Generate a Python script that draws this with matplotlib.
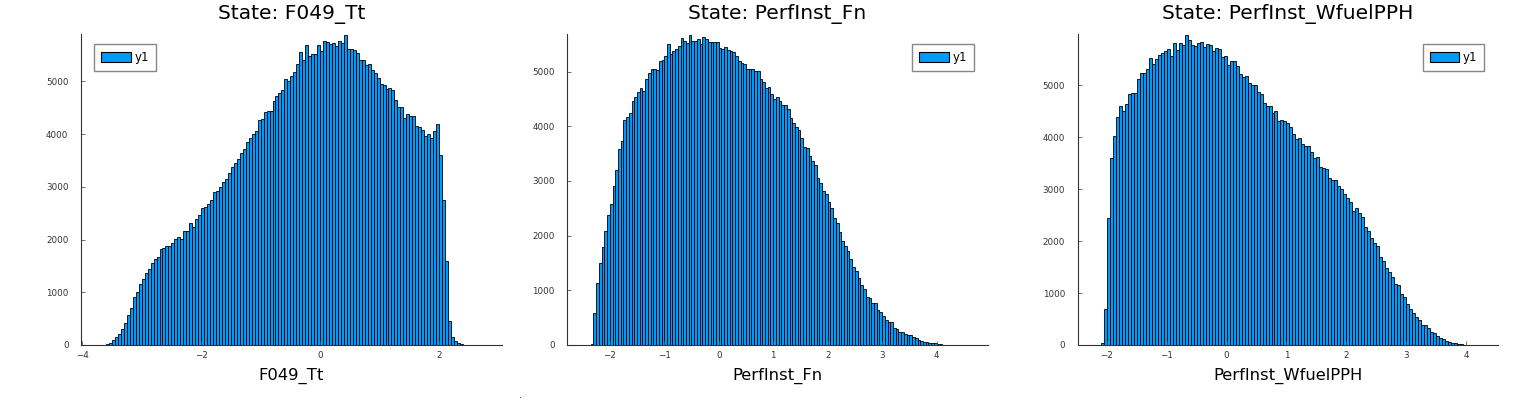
"""Three state histograms (bin width 0.05), Plots.jl-like styling."""
import numpy as np
import matplotlib

matplotlib.use("Agg")
import matplotlib.pyplot as plt
from matplotlib.patches import Patch

BW = 0.05
BAR = "#009AFA"

# ---- F049_Tt : counts per bin, first bin starts at -3.85 ----
TT_START = -3.85
TT_COUNTS = [
    1, 2, 3, 5, 9,
    19, 44, 95, 145, 208, 297, 410, 562, 694, 915,
    1010, 1149, 1244, 1357, 1446, 1547, 1635, 1673, 1818, 1831,
    1882, 1882, 1938, 2001, 2039, 2001, 2153, 2153, 2304, 2241,
    2380, 2462, 2589, 2607, 2671, 2746, 2892, 2923, 2999, 3094,
    3138, 3264, 3365, 3453, 3535, 3649, 3712, 3851, 3933, 3996,
    4059, 4262, 4287, 4413, 4432, 4438, 4628, 4716, 4779, 4830,
    5045, 5007, 5107, 5177,
    5335, 5562, 5398, 5688, 5486, 5512, 5524, 5688, 5568, 5764,
    5739, 5701, 5726, 5663, 5770, 5726, 5884, 5619, 5619, 5600,
    5537, 5410, 5410, 5310, 5322, 5209, 5158, 5070, 4956, 4937,
    4861, 4874, 4842, 4653, 4520, 4520, 4312, 4388, 4337, 4350,
    4154, 4135, 4072, 3958, 4009, 3933, 4053, 4198, 3611, 2746,
    1585, 448, 145, 76, 32, 13, 6,
    4, 3, 2, 1, 1, 1, 0, 1,
]

# ---- PerfInst_Fn : first bin starts at -2.55 ----
FN_START = -2.55
FN_COUNTS = [
    1, 0, 1, 3,
    18, 579, 1127, 1492, 1784, 2089, 2369, 2582, 2905, 3197,
    3593, 3733, 4123, 4172, 4251, 4458, 4543, 4622, 4708, 4641,
    4872, 4976, 5043, 5055, 5036, 5195, 5219, 5280, 5499, 5329,
    5371, 5420, 5463, 5609, 5566, 5524, 5676, 5554, 5554, 5603,
    5512, 5627, 5603, 5542, 5542, 5548, 5542, 5438, 5414, 5445,
    5390, 5378, 5353, 5280, 5201, 5158, 5134, 5055, 5049, 5043,
    5012, 5012, 4860,
    4811, 4701, 4720, 4586, 4494, 4537, 4458, 4385, 4385, 4324,
    4159, 4062, 3989, 3940, 3794, 3624, 3605, 3453, 3362, 3283,
    3045, 2954, 2814, 2753, 2607, 2497, 2326, 2223, 2058, 1906,
    1809, 1723, 1577, 1419, 1358, 1218, 1096, 1017, 883, 859,
    773, 773, 639, 603, 530, 457, 426, 414, 317, 286,
    244, 231, 195, 183, 183, 152, 122, 91, 79, 61,
    49, 43, 30, 30, 18, 12, 6,
    5, 3, 3, 2, 2, 1, 1, 1, 0, 1, 0, 1,
]

# ---- PerfInst_WfuelPPH : first bin starts at -2.30 ----
WF_START = -2.30
WF_COUNTS = [
    1, 0, 2, 4,
    32, 702, 2439, 3595, 4023, 4394, 4592, 4502, 4643, 4821,
    4841, 4853, 5122, 5230, 5230, 5319, 5524, 5415, 5511, 5575,
    5626, 5664, 5703, 5569, 5811, 5683, 5811, 5779, 5971, 5875,
    5779, 5747, 5811, 5837, 5728, 5786, 5779, 5664, 5715, 5703,
    5537, 5562, 5396, 5473, 5466, 5358, 5205, 5160, 5173, 5032,
    5000, 5000, 4866, 4821, 4649, 4592, 4592, 4457, 4502, 4311,
    4323, 4311, 4266, 4202, 4068, 3972, 3979, 3864, 3819, 3819,
    3710, 3602, 3621, 3417, 3404, 3385, 3212, 3174, 3174, 3065,
    3001, 2906, 2829, 2746, 2586, 2631, 2542, 2471, 2267, 2190,
    2063, 1961, 1897, 1692, 1616, 1488, 1405, 1309, 1181, 1149,
    990, 926, 785, 702, 619, 543, 479, 383, 383, 319,
    255, 224, 172, 128, 121, 83, 57, 45, 32, 19, 13,
    8, 6, 4, 3, 2, 1, 1, 1,
]

NAMES = ["F049_Tt", "PerfInst_Fn", "PerfInst_WfuelPPH"]
STARTS = [TT_START, FN_START, WF_START]
COUNTS = [TT_COUNTS, FN_COUNTS, WF_COUNTS]
XLIMS = [(-4.02, 3.05), (-2.78, 4.94), (-2.49, 4.54)]
XTICKS = [[-4, -2, 0, 2], [-2, -1, 0, 1, 2, 3, 4], [-2, -1, 0, 1, 2, 3, 4]]
LEFTS = [81, 567.3, 1077.7]     # pixel positions of left spines
LEG = [("upper left", 0.031), ("upper right", 0.967), ("upper right", 0.967)]

W, H = 1527, 401


def main():
    fig = plt.figure(figsize=(W / 100, H / 100), dpi=100)
    for name, x0, cnt, xl, xt, lp, (loc, lx) in zip(NAMES, STARTS, COUNTS, XLIMS, XTICKS, LEFTS, LEG):
        ax = fig.add_axes([lp / W, 1 - 345 / H, 420.5 / W, 311 / H])
        c = np.array(cnt, dtype=float)
        edges = x0 + BW * np.arange(len(c))
        ax.bar(edges, c, width=BW, align="edge", color=BAR, edgecolor="black", lw=0.6)
        ax.set_xlim(*xl); ax.set_ylim(0, c.max() * 1.002)
        ax.set_xticks(xt); ax.set_xticklabels([str(v).replace("-", "\u2212") for v in xt])
        ax.set_yticks(range(0, 6000, 1000))
        for s in ("top", "right"):
            ax.spines[s].set_visible(False)
        for s in ("left", "bottom"):
            ax.spines[s].set_color("#333333"); ax.spines[s].set_linewidth(0.8)
        ax.tick_params(direction="in", length=3, width=0.6, color="#555555", labelsize=6.3,
                       labelcolor="#333333", pad=4)
        ax.tick_params(axis="y", pad=9)
        ax.set_title(f"State: {name}", fontsize=14.5, pad=11)
        ax.set_xlabel(name, fontsize=11.8, labelpad=6)
        ax.legend(handles=[Patch(facecolor=BAR, edgecolor="black", lw=0.8, label="y1")], loc=loc,
                  bbox_to_anchor=(lx, 0.968), borderaxespad=0, fontsize=8.5, fancybox=False,
                  edgecolor="#888888", framealpha=1, handlelength=2.5, handleheight=1.0,
                  borderpad=0.6, handletextpad=0.3)
    fig.text(520 / W, 1 - 395 / H, ".", fontsize=7, ha="center", va="center", color="#333333")
    fig.savefig("out.png", dpi=100)
    plt.close(fig)


if __name__ == "__main__":
    main()
